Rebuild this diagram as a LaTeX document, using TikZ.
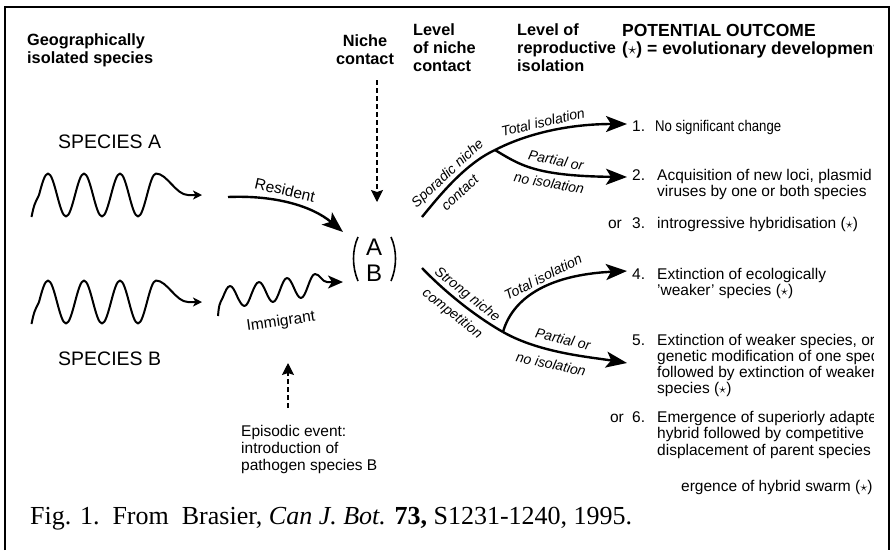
\documentclass[tikz,border=0pt]{standalone}
\usepackage{fontspec}
\usepackage{graphicx}
\setmainfont{Liberation Sans}
\newfontfamily\capfont{Liberation Serif}
\usetikzlibrary{arrows.meta}
\begin{document}
\begin{tikzpicture}[x=1pt,y=-1pt,
  hdr/.style={font=\bfseries\fontsize{16.3}{18}\selectfont, inner sep=0pt, anchor=base west},
  txt/.style={font=\fontsize{15.5}{16}\selectfont, inner sep=0pt, anchor=base west},
  orl/.style={font=\fontsize{15.5}{16}\selectfont, inner sep=0pt, anchor=base east},
  spc/.style={font=\fontsize{19.5}{21}\selectfont, inner sep=0pt, anchor=base west},
  lbl/.style={font=\itshape\fontsize{14}{16}\selectfont, inner sep=0pt},
  bigarrow/.style={line width=2.4pt, -{Stealth[length=21pt,width=16pt,inset=5pt]}},
  plainline/.style={line width=2.4pt},
  wave/.style={line width=2pt, line join=round, -{Stealth[length=9pt,width=9pt,inset=2.5pt]}},
  dashline/.style={line width=1.1pt, dash pattern=on 5pt off 3pt, -{Stealth[length=12pt,width=12pt,inset=2pt]}}
]
\useasboundingbox (0,0) rectangle (893,550);
\fill[white] (0,0) rectangle (893,550);

\begin{scope}
\clip (0,0) rectangle (873,550);

% headers
\node[hdr] (h1a) at (27,45) {Geographically};
\node[hdr] (h1b) at (27,63) {isolated species};
\node[hdr, anchor=base] (h2a) at (365,46) {Niche};
\node[hdr, anchor=base] (h2b) at (365,64) {contact};
\node[hdr] (h3a) at (413,35) {Level};
\node[hdr] (h3b) at (413,53) {of niche};
\node[hdr] (h3c) at (413,71) {contact};
\node[hdr] (h4a) at (517,35) {Level of};
\node[hdr] (h4b) at (517,53) {reproductive};
\node[hdr] (h4c) at (517,71) {isolation};
\node[hdr, font=\bfseries\fontsize{17.5}{19}\selectfont] (h5a) at (622,36) {POTENTIAL OUTCOME};
\node[hdr, font=\bfseries\fontsize{17.5}{19}\selectfont] (h5b) at (622,54) {($\star$) = evolutionary development};

% species
\node[spc] (spA) at (58,148) {SPECIES A};
\node[spc] (spB) at (58,365) {SPECIES B};

% wave A
\coordinate (wA0) at (31.5,217);
\coordinate (wA1) at (202,195);
\draw[wave] (wA0) .. controls (34,205) .. (39,195) sin (48,173.5) cos (57,195) sin (66,216.5)
  cos (75,195) sin (84,173.5) cos (93,195) sin (102,216.5) cos (111,195) sin (120,173.5)
  cos (129,195) sin (138,216.5) cos (147,195) sin (156,173.5)
  .. controls (167,173.5) and (176,195) .. (188,195) -- (wA1);
% wave B
\coordinate (wB0) at (31.5,324);
\coordinate (wB1) at (202,302);
\draw[wave] (wB0) .. controls (34,312) .. (39,302) sin (48,280.5) cos (57,302) sin (66,323.5)
  cos (75,302) sin (84,280.5) cos (93,302) sin (102,323.5) cos (111,302) sin (120,280.5)
  cos (129,302) sin (138,323.5) cos (147,302) sin (156,280.5)
  .. controls (167,280.5) and (176,302) .. (188,302) -- (wB1);

% immigrant wave
\coordinate (im0) at (218,316);
\coordinate (im1) at (343,282);
\draw[line width=2pt, line join=round, -{Stealth[length=15pt,width=13pt,inset=4pt]}]
  (im0) .. controls (219,305) .. (223,297) sin (230,286) cos (237,296) sin (244.5,306)
  cos (251.5,294) sin (259,282) cos (266,292) sin (273,302) cos (280,290) sin (287,278)
  cos (294,288) sin (301,298) cos (308,286) sin (315,274)
  .. controls (320,274) and (322,282) .. (327,282) -- (im1);
\node[font=\fontsize{15.5}{16}\selectfont, inner sep=0pt, rotate=8] (imm) at (281,322) {Immigrant};

% resident arrow
\coordinate (res0) at (228,197);
\coordinate (res1) at (343,232);
\draw[bigarrow] (res0) .. controls (275,195) and (312,206) .. (res1);
\node[font=\fontsize{15.5}{16}\selectfont, inner sep=0pt, rotate=-13] (reslbl) at (285,190) {Resident};

% niche contact dashed arrow
\coordinate (nc0) at (377,80);
\coordinate (nc1) at (377,202);
\draw[dashline] (nc0) -- (nc1);

% A B
\node[font=\fontsize{24}{26}\selectfont, inner sep=0pt, anchor=base] (nA) at (374,255) {A};
\node[font=\fontsize{24}{26}\selectfont, inner sep=0pt, anchor=base] (nB) at (374,281) {B};
\draw[line width=1.6pt] (358,237) .. controls (352,250) and (352,267) .. (358,281);
\draw[line width=1.6pt] (391,237) .. controls (397,250) and (397,267) .. (391,281);

% episodic
\coordinate (ep0) at (288,408);
\coordinate (ep1) at (288,363);
\draw[dashline] (ep0) -- (ep1);
\node[txt] (ep1t) at (241,436) {Episodic event:};
\node[txt] (ep2t) at (241,453) {introduction of};
\node[txt] (ep3t) at (241,470) {pathogen species B};

% upper branch
\coordinate (u0) at (422,217);
\coordinate (ub) at (495,150);
\coordinate (u1) at (627,124);
\coordinate (u2) at (627,177);
\draw[plainline] (u0) .. controls (440,195) and (465,164) .. (ub);
\draw[bigarrow] (ub) .. controls (528,133) and (570,124) .. (u1);
\draw[bigarrow] (ub) .. controls (520,165) and (535,176) .. (u2);
\node[lbl, rotate=43] (spor) at (448,174) {Sporadic niche};
\node[lbl, rotate=43] (sporc) at (460,193) {contact};
\node[lbl, rotate=13] (ti1) at (543,122) {Total isolation};
\node[lbl, rotate=-12] (po1) at (556,160) {Partial or};
\node[lbl, rotate=-10] (ni1) at (549,183) {no isolation};

% lower branch
\coordinate (l0) at (422,268);
\coordinate (lb) at (503,332);
\coordinate (l1) at (627,271);
\coordinate (l2) at (627,363);
\draw[plainline] (l0) .. controls (445,292) and (475,316) .. (lb);
\draw[bigarrow] (lb) .. controls (512,300) and (545,275) .. (l1);
\draw[bigarrow] (lb) .. controls (540,353) and (590,357) .. (l2);
\node[lbl, rotate=-38] (str) at (467,295) {Strong niche};
\node[lbl, rotate=-38] (strc) at (452,314) {competition};
\node[lbl, rotate=27] (ti2) at (543,277) {Total isolation};
\node[lbl, rotate=-13] (po2) at (563,339) {Partial or};
\node[lbl, rotate=-12] (ni2) at (551,364) {no isolation};

% outcomes
\node[txt] (n1) at (632,131) {1.};
\node[txt] (t1) at (655,131) {\scalebox{0.85}[1]{No significant change}};
\node[txt] (n2) at (632,180) {2.};
\node[txt] (t2a) at (657,180) {Acquisition of new loci, plasmid};
\node[txt] (t2b) at (657,196) {viruses by one or both species};
\node[orl] (or3) at (622,228) {or};
\node[txt] (n3) at (632,228) {3.};
\node[txt] (t3) at (657,228) {introgressive hybridisation ($\star$)};
\node[txt] (n4) at (632,279) {4.};
\node[txt] (t4a) at (657,279) {Extinction of ecologically};
\node[txt] (t4b) at (657,295) {'weaker' species ($\star$)};
\node[txt] (n5) at (632,345) {5.};
\node[txt] (t5a) at (657,345) {Extinction of weaker species, or};
\node[txt] (t5b) at (657,361) {genetic modification of one spec};
\node[txt] (t5c) at (657,377) {followed by extinction of weaker};
\node[txt] (t5d) at (657,393) {species ($\star$)};
\node[orl] (or6) at (624,422) {or};
\node[txt] (n6) at (632,422) {6.};
\node[txt] (t6a) at (657,422) {Emergence of superiorly adapte};
\node[txt] (t6b) at (657,438) {hybrid followed by competitive};
\node[txt] (t6c) at (657,455) {displacement of parent species};
\node[txt] (t7) at (681,491) {ergence of hybrid swarm ($\star$)};

% caption
\node[font=\capfont\fontsize{26}{28}\selectfont, inner sep=0pt, anchor=base west] (cap) at (30,524)
  {Fig. 1.\ \ From\ \ Brasier, \textit{Can J. Bot.} \textbf{73,} S1231-1240, 1995.};
\end{scope}

\draw[line width=2pt] (5,550) -- (5,7) -- (889,7) -- (889,550);
\end{tikzpicture}
\end{document}
